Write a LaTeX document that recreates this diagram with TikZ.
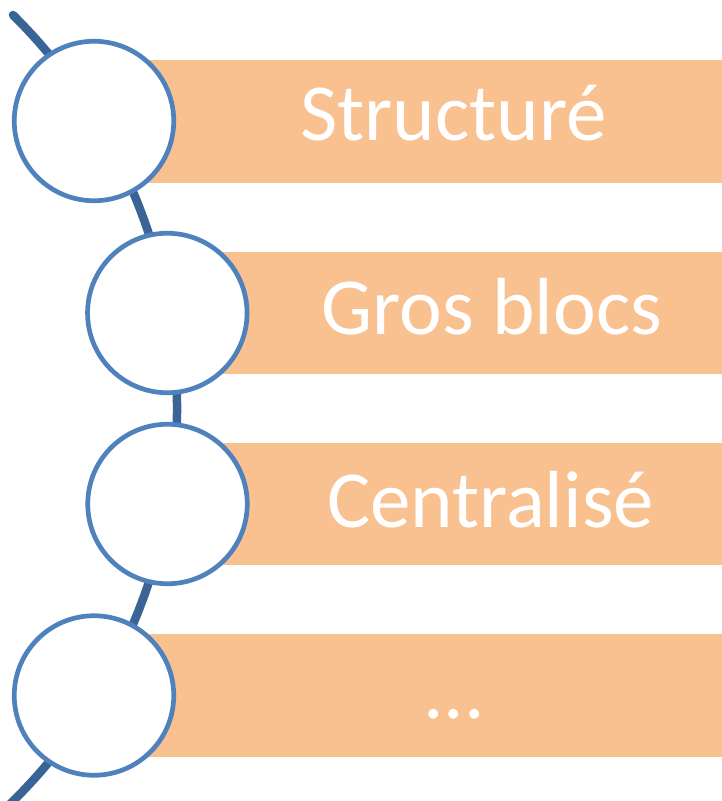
\documentclass[tikz,border=0pt]{standalone}
\usepackage{fontspec}
\setmainfont{Carlito}
\definecolor{circblue}{HTML}{4F81BD}
\definecolor{arcblue}{HTML}{3B6496}
\definecolor{barfill}{HTML}{F9C090}
\tikzset{
  barbox/.style={fill=barfill, draw=none, rectangle, inner sep=0pt, minimum height=122.5pt, anchor=west},
  circnode/.style={circle, fill=white, draw=circblue, line width=4.7pt, minimum size=159.5pt, inner sep=0pt},
  lbl/.style={text=white, anchor=base, inner sep=0pt, font=\fontsize{81}{96}\selectfont},
}
\begin{document}
\begin{tikzpicture}[x=1pt,y=-1pt]
\clip (0,0) rectangle (722,801);
\coordinate (arcstart) at (13,15);
\draw[arcblue, line width=8.5pt, line cap=round] (arcstart) arc[start angle=45.3, end angle=-50, radius=553pt];
\node[barbox, minimum width=592pt] (b1) at (130,121.5) {};
\node[barbox, minimum width=522pt] (b2) at (200,313) {};
\node[barbox, minimum width=522pt] (b3) at (200,504) {};
\node[barbox, minimum width=592pt] (b4) at (130,695.5) {};
\node[circnode] (c1) at (94,121) {};
\node[circnode] (c2) at (167.3,313) {};
\node[circnode] (c3) at (167.5,504) {};
\node[circnode] (c4) at (94,695.5) {};
\node[lbl] (t1) at (453.5,140) {Structuré};
\node[lbl] (t2) at (492,334) {Gros blocs};
\node[lbl] (t3) at (490.5,527) {Centralisé};
\node[lbl] (t4) at (454,718) {...};
\end{tikzpicture}
\end{document}
